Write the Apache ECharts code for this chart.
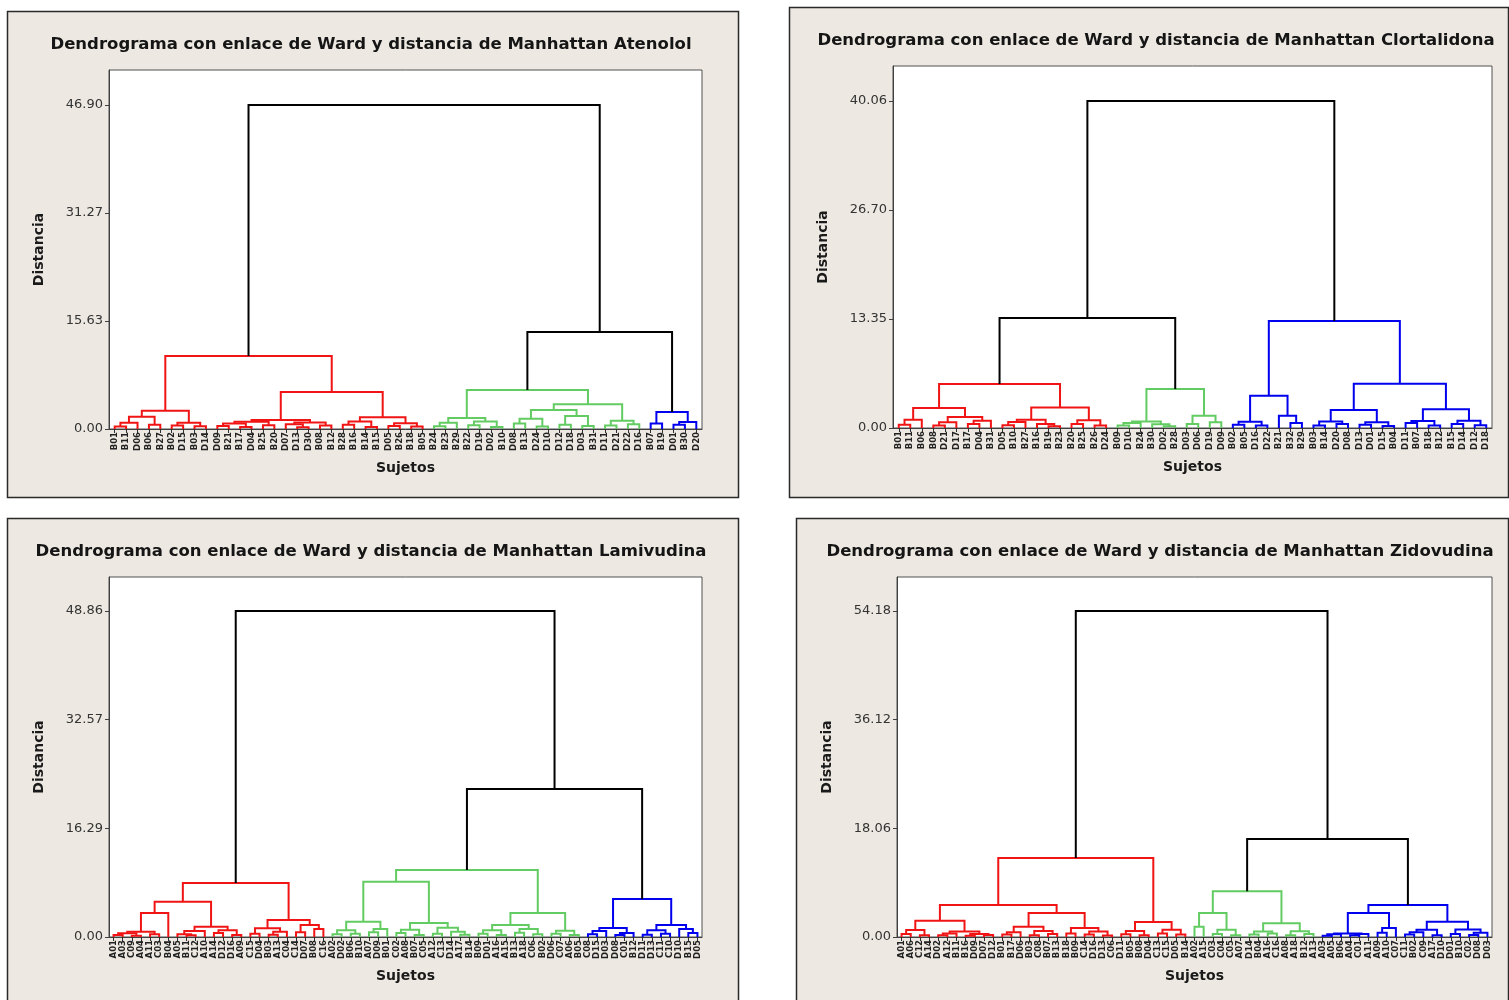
<!DOCTYPE html>
<html><head><meta charset="utf-8">
<script src="https://cdn.jsdelivr.net/npm/echarts@6/dist/echarts.min.js"></script>
<style>html,body{margin:0;padding:0;background:#fff}#c{width:1509px;height:1000px}</style>
</head><body><div id="c"></div>
<script>
// ---- Titles ----
const titles = [
  'Dendrograma con enlace de Ward y distancia de Manhattan Atenolol',
  'Dendrograma con enlace de Ward y distancia de Manhattan Clortalidona',
  'Dendrograma con enlace de Ward y distancia de Manhattan Lamivudina',
  'Dendrograma con enlace de Ward y distancia de Manhattan Zidovudina'
];
// ---- Y tick labels ----
const yTicks1 = [0, 15.63, 31.27, 46.90];
const yTicks2 = [0, 13.35, 26.70, 40.06];
const yTicks3 = [0, 16.29, 32.57, 48.86];
const yTicks4 = [0, 18.06, 36.12, 54.18];

// ---- Leaves (subjects) ----
const leaves1 = ['B01','B11','D06','B06','B27','B02','D15','B03','D14','D09','B21','B17','D04','B25','B20','D07','D13','D30','B08','B12','B28','B16','B14','B15','D05','B26','B18','B05',
  'B24','B23','B29','B22','D19','D02','B10','D08','B13','D24','D10','D12','D18','D03','B31','D11','D21','D22','D16',
  'B07','B19','D01','B30','D20'];
const leaves2 = ['B01','B11','B06','B08','D21','D17','B17','D04','B31','D05','B10','B27','B16','B19','B23','B20','B25','B26','D24',
  'B09','D10','B24','B30','D02','B28','D03','D06','D19','D09',
  'B02','B05','D16','D22','B21','B32','B29','B03','B14','D20','D08','D13','D01','D15','B04','D11','B07','B18','B12','B15','D14','D12','D18'];
const leaves3 = ['A01','A03','C09','A04','A11','C03','B04','A05','B11','C12','A10','A14','D12','D16','A09','C15','D04','B03','A13','C04','C14','D07','B08','C16',
  'A02','D02','B06','B10','A07','D09','B01','C02','A08','B07','C05','A12','C13','D14','A17','B14','B09','D01','A16','A15','B13','A18','C06','B02','D06','C07','A06','B05',
  'C08','D15','D03','D08','C01','B12','D11','D13','C11','C10','D10','B15','D05'];
const leaves4 = ['A01','A06','C12','A14','D02','A12','B11','B16','D09','D07','D12','B01','B17','D06','B03','C08','B07','B13','B18','B09','C14','D16','D13','C06','D11','B05','B08','D04','C13','C15','D05','B14',
  'A02','A15','C03','C04','C05','A07','D14','B04','A16','C16','A08','A18','B12','A13',
  'A03','A05','B06','A04','C01','A11','A09','A10','C07','C11','B02','C09','A17','D10','D01','B10','C02','D08','D03'];

// ---- Merge height between adjacent leaves (distance) ----
const gaps1 = [0.35,0.9,1.78,0.6, 2.65, 0.5,0.91,0.4, 10.57,
  0.45,0.8,0.3,1.05,0.55,1.3,0.7,0.25,0.95,0.5, 5.36, 0.6,1.1,0.3,1.7,0.45,0.85,0.35, 46.90,
  0.4,0.9,1.6,0.55,1.1,0.3, 5.65, 0.8,1.5,0.35,2.75,0.6,1.9,0.45, 3.6, 0.5,1.2,0.7, 14.04,
  0.8,2.46,0.6,1.0];
const gaps2 = [0.4,1.0, 2.45, 0.3,0.7,1.35,0.5,0.9, 5.39, 0.35,0.75,1.0,0.5,0.2, 2.5, 0.5,0.95,0.3, 13.47,
  0.3,0.6,0.8,0.45,0.2, 4.78, 0.5,1.5,0.7, 40.06,
  0.4,0.77,0.3, 3.95, 1.5,0.6, 13.1, 0.3,0.8,0.5, 2.2, 0.4,0.7,0.25, 5.42, 0.6,0.85,0.3, 2.3, 0.5,0.9,0.35];
const gaps3 = [0.3,0.55,0.2,0.8,0.4, 3.6, 5.3, 0.4,0.25,0.9,1.55,0.6,1.0,0.3, 8.09, 0.5,1.3,0.35,0.8, 2.55, 0.7,1.8,1.2, 48.86,
  0.4,1.0,0.5,2.3,0.7,1.2, 8.3, 0.6,1.1,0.3,2.1,0.5,1.4,0.8,0.35, 10.04, 0.5,1.0,0.3,1.8,0.65,1.2,0.4, 3.6, 0.5,0.95,0.3, 22.2,
  0.4,0.9,1.35,0.3,0.6, 5.7, 0.35,1.0,0.5, 1.8, 1.2,0.6];
const gaps4 = [0.5,1.16,0.3, 2.7, 0.3,0.6,0.9,0.2,0.5,0.35, 5.3, 0.4,0.8,1.7,0.3,1.0,0.5, 4.0, 0.6,1.5,0.4,0.9,0.25, 13.13, 0.45,1.0,0.3, 2.5, 0.6,1.2,0.4, 54.18,
  1.7, 4.0, 0.5,1.2,0.3, 7.6, 0.4,0.9,0.6, 2.3, 0.3,0.95,0.5, 16.3,
  0.2,0.45,0.6,0.3,0.5, 4.0, 0.7,1.5, 5.3, 0.4,0.8,1.2,0.3, 2.55, 0.5,1.25,0.35,0.7];

// ---- Cluster sizes (red, green, blue) ----
const groups1 = [28, 19, 5];
const groups2 = [19, 10, 23];
const groups3 = [24, 28, 13];
const groups4 = [32, 14, 19];

const COLORS = ['#f01414', '#62cc62', '#0000ee', '#000000'];
const FONT = 'DejaVu Sans';

function buildLinks(gaps, sizes) {
  const n = gaps.length + 1;
  const grp = [];
  sizes.forEach((s, g) => { for (let i = 0; i < s; i++) grp.push(g); });
  const links = [];
  function rec(a, b) {
    if (a === b) return { x: a, h: 0 };
    let k = a;
    for (let i = a; i < b; i++) if (gaps[i] > gaps[k]) k = i;
    const L = rec(a, k), R = rec(k + 1, b);
    const c = grp[a] === grp[b] ? grp[a] : 3;
    links.push([L.x, L.h, R.x, R.h, gaps[k], c]);
    return { x: (L.x + R.x) / 2, h: gaps[k] };
  }
  rec(0, n - 1);
  return links;
}

function renderItem(params, api) {
  const p0 = api.coord([api.value(0), api.value(1)]);
  const p1 = api.coord([api.value(0), api.value(4)]);
  const p2 = api.coord([api.value(2), api.value(4)]);
  const p3 = api.coord([api.value(2), api.value(3)]);
  return { type: 'polyline', shape: { points: [p0, p1, p2, p3] },
    style: { stroke: COLORS[api.value(5)], lineWidth: 2, fill: null } };
}

const panels = [
  { leaves: leaves1, gaps: gaps1, groups: groups1, ticks: yTicks1 },
  { leaves: leaves2, gaps: gaps2, groups: groups2, ticks: yTicks2 },
  { leaves: leaves3, gaps: gaps3, groups: groups3, ticks: yTicks3 },
  { leaves: leaves4, gaps: gaps4, groups: groups4, ticks: yTicks4 }
];
// layout
const boxes = [[7, 11, 731, 486], [789, 7, 719, 490], [7, 518, 731, 490], [796, 518, 712, 490]];
const grids = [[109, 70, 593, 359], [893, 66, 599, 362], [109, 577, 593, 360], [897, 577, 595, 360]];
const yMax = [51.97, 44.35, 53.96, 59.83];
const titlePos = [[371, 45], [1156, 41], [371, 552], [1160, 552]];

const option = {
  animation: false,
  backgroundColor: '#ffffff',
  graphic: [],
  grid: [], xAxis: [], yAxis: [], series: []
};
boxes.forEach((b, i) => {
  option.graphic.push({ type: 'rect', z: -100, silent: true,
    shape: { x: b[0] + 0.5, y: b[1] + 0.5, width: b[2], height: b[3] },
    style: { fill: '#ede9e2', stroke: '#2a2a2a', lineWidth: 1.5 } });
  option.graphic.push({ type: 'text', z: 10, silent: true,
    style: { x: titlePos[i][0], y: titlePos[i][1], text: titles[i], textAlign: 'center', textVerticalAlign: 'middle',
      font: 'bold 16.5px "DejaVu Sans"', fill: '#151515' } });
});
panels.forEach((p, g) => {
  const gr = grids[g];
  option.grid.push({ left: gr[0], top: gr[1], width: gr[2], height: gr[3], show: true,
    backgroundColor: '#ffffff', borderColor: '#505050', borderWidth: 1, containLabel: false });
  option.xAxis.push({ gridIndex: g, type: 'category', data: p.leaves, boundaryGap: true, position: 'bottom',
    axisLine: { show: true, onZero: false, lineStyle: { color: '#404040', width: 1 } },
    axisTick: { show: true, interval: 0, alignWithLabel: true, length: 4, lineStyle: { color: '#303030' } },
    axisLabel: { interval: 0, rotate: 90, fontSize: 8.5, fontWeight: 'bold', fontFamily: FONT, color: '#222', margin: 3 },
    splitLine: { show: false },
    name: 'Sujetos', nameLocation: 'middle', nameGap: 32,
    nameTextStyle: { fontSize: 14, fontWeight: 'bold', fontFamily: FONT, color: '#1a1a1a' } });
  option.xAxis.push({ gridIndex: g, type: 'value', min: -0.5, max: p.leaves.length - 0.5, show: false });
  option.yAxis.push({ gridIndex: g, type: 'value', min: 0, max: yMax[g], position: 'left',
    axisLine: { show: true, onZero: false, lineStyle: { color: '#404040' } },
    axisTick: { show: true, customValues: p.ticks, length: 4, lineStyle: { color: '#404040' } },
    axisLabel: { customValues: p.ticks, formatter: v => Number(v).toFixed(2), fontSize: 13, fontFamily: FONT, color: '#333', margin: 6 },
    splitLine: { show: false },
    name: 'Distancia', nameLocation: 'middle', nameGap: 63,
    nameTextStyle: { fontSize: 14, fontWeight: 'bold', fontFamily: FONT, color: '#1a1a1a' } });
  option.series.push({ type: 'custom', xAxisIndex: 2 * g + 1, yAxisIndex: g,
    renderItem: renderItem, data: buildLinks(p.gaps, p.groups), clip: false, silent: true });
});

const chart = echarts.init(document.getElementById('c'), null, { renderer: 'canvas' });
chart.setOption(option);
</script></body></html>
